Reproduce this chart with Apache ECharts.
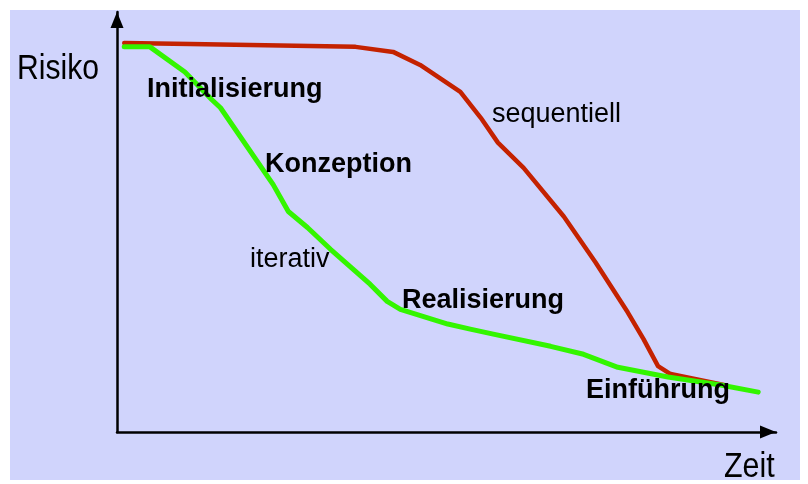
<!DOCTYPE html>
<html>
<head>
<meta charset="utf-8">
<script src="https://cdn.jsdelivr.net/npm/echarts@6/dist/echarts.min.js"></script>
<style>
html,body{margin:0;padding:0;background:#ffffff;}
#chart{width:808px;height:484px;}
</style>
</head>
<body>
<div id="chart"></div>
<script>
// Zeit (x, 0-100) and Risiko (y, 0-100)
var sequentiellX = [1.1, 11.1, 36.2, 41.9, 46.0, 52.1, 55.2, 57.8, 61.7, 67.8, 72.6, 77.5, 79.9, 82.1, 84.0, 92.1];
var sequentiellY = [92.6, 92.4, 91.7, 90.5, 87.4, 81.0, 74.8, 68.9, 62.9, 51.3, 40.4, 28.5, 22.1, 15.7, 13.8, 11.2];
var iterativX = [1.1, 5.0, 10.3, 14.4, 15.7, 23.7, 26.0, 28.9, 32.4, 38.4, 41.0, 43.0, 50.2, 53.6, 57.1, 65.8, 70.8, 76.0, 83.6, 91.6, 97.3];
var iterativY = [91.7, 91.7, 85.7, 79.1, 77.2, 58.9, 52.5, 48.7, 43.5, 35.2, 31.1, 29.2, 25.7, 24.5, 23.3, 20.4, 18.5, 15.4, 13.1, 11.2, 9.5];
var phaseLabels = ['Initialisierung', 'Konzeption', 'Realisierung', 'Einführung'];
var seriesNames = ['sequentiell', 'iterativ'];
var axisNames = ['Zeit', 'Risiko'];

function pairs(xs, ys) { return xs.map(function (x, i) { return [x, ys[i]]; }); }

var chart = echarts.init(document.getElementById('chart'), null, {renderer: 'canvas'});
var bold = {fontFamily: 'Liberation Sans, Arial, sans-serif', fontWeight: 'bold', fontSize: 27, fill: '#000'};
var reg = {fontFamily: 'Liberation Sans, Arial, sans-serif', fontWeight: 'normal', fontSize: 27, fill: '#000'};
function txt(t, x, y, st, sx) {
  return {type: 'text', x: x, y: y, scaleX: sx || 1, z: 10,
    style: Object.assign({text: t, textVerticalAlign: 'top', verticalAlign: 'top'}, st)};
}
var big = {fontFamily: 'Liberation Sans, Arial, sans-serif', fontSize: 35, fill: '#000'};

chart.setOption({
  backgroundColor: '#ffffff',
  animation: false,
  grid: {left: 117, right: 32, top: 12, bottom: 52},
  xAxis: {
    type: 'value', min: 0, max: 100,
    axisLine: {show: true, lineStyle: {color: '#000', width: 2.5}, symbol: ['none', 'triangle'], symbolSize: [13, 16], symbolOffset: [0, -8]},
    axisTick: {show: false}, axisLabel: {show: false}, splitLine: {show: false}
  },
  yAxis: {
    type: 'value', min: 0, max: 100,
    axisLine: {show: true, lineStyle: {color: '#000', width: 2.5}, symbol: ['none', 'triangle'], symbolSize: [13, 16], symbolOffset: [0, -8]},
    axisTick: {show: false}, axisLabel: {show: false}, splitLine: {show: false}
  },
  graphic: [
    {type: 'rect', shape: {x: 10, y: 10, width: 790, height: 470}, style: {fill: '#d0d4fc'}, z: -10, silent: true},
    txt(axisNames[1], 17, 52, big, 0.86),
    txt(axisNames[0], 724, 450, big, 0.87),
    txt(phaseLabels[0], 147, 76, bold),
    txt(phaseLabels[1], 265, 151, bold),
    txt(phaseLabels[2], 402, 287, bold),
    txt(phaseLabels[3], 586, 377, bold),
    txt(seriesNames[0], 492, 101, reg),
    txt(seriesNames[1], 250, 246, reg)
  ],
  series: [
    {name: seriesNames[0], type: 'line', data: pairs(sequentiellX, sequentiellY), showSymbol: false, symbol: 'none',
      lineStyle: {color: '#c42200', width: 4.5, cap: 'round', join: 'round'}, z: 2},
    {name: seriesNames[1], type: 'line', data: pairs(iterativX, iterativY), showSymbol: false, symbol: 'none',
      lineStyle: {color: '#33f500', width: 5, cap: 'round', join: 'round'}, z: 3}
  ]
});
</script>
</body>
</html>
